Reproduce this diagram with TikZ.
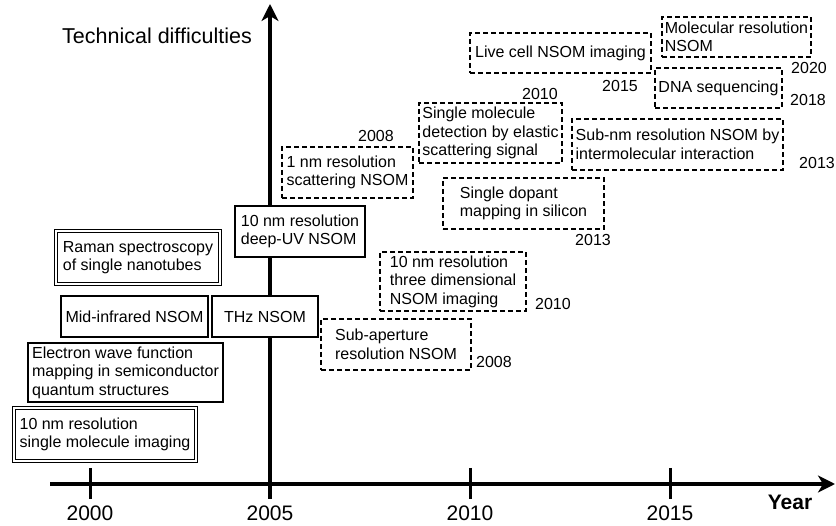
\documentclass[tikz,border=0pt]{standalone}
\usepackage{fontspec}
\setmainfont{Liberation Sans}
\usepackage{tikz}
\usetikzlibrary{arrows.meta}
\tikzset{
    bx/.style={align=left, inner sep=3pt, font=\fontsize{16}{18.5}\selectfont},
    sbox/.style={bx, draw, line width=1.8},
    wbox/.style={bx, draw, line width=0.8, double, double distance=2},
    dbox/.style={bx, draw, line width=1.8, dash pattern=on 5 off 3},
    yr/.style={font=\fontsize{16}{18}\selectfont}
}

\begin{document}
\begin{tikzpicture}[x=1pt, y=-1pt]
    \useasboundingbox (0,0) rectangle (836,526);
    \coordinate(xs) at (50,484);
    \coordinate(xe) at (835,484);
    \coordinate(ys) at (270,499);
    \coordinate(ye) at (270,4);
    \draw[line width=4, -{Stealth[length=17, width=17, inset=5]}] (xs) -- (xe);
    \draw[line width=4, -{Stealth[length=17, width=17, inset=5]}] (ys) -- (ye);
    \foreach \x/\y in {90/2000,270/2005,470/2010,670/2015} {
        \draw[line width=3] (\x,468) -- (\x,499);
        \node[font=\fontsize{21}{24}\selectfont] at (\x,513) {\y};
    }
    \node(year)[font=\fontsize{21}{24}\selectfont\bfseries] at (790,502) {Year};
    \node(tech)[font=\fontsize{21.5}{24}\selectfont] at (157,36) {Technical difficulties};

    \node(raman)[wbox, minimum width=164, minimum height=53] at (138,257.5)
        {Raman spectroscopy\\of single nanotubes};
    \node(deepuv)[sbox, minimum width=130, minimum height=51, fill=white] at (300,231.5)
        {10 nm resolution\\deep-UV NSOM};
    \node(midir)[sbox, minimum width=147, minimum height=41] at (134.5,316.5)
        {Mid-infrared NSOM};
    \node(thz)[sbox, minimum width=106, minimum height=41, fill=white] at (265,316.5)
        {THz NSOM};
    \node(elec)[sbox, minimum width=195, minimum height=59] at (125.5,372.5)
        {Electron wave function\\mapping in semiconductor\\quantum structures};
    \node(smi)[wbox, minimum width=182, minimum height=53] at (105,434.5)
        {10 nm resolution\\single molecule imaging};

    \node(onenm)[dbox, minimum width=131, minimum height=51] at (347.5,172.5)
        {1 nm resolution\\scattering NSOM};
    \node(subap)[dbox, minimum width=150, minimum height=51] at (396,344.5)
        {Sub-aperture\\resolution NSOM};
    \node(threed)[dbox, minimum width=146, minimum height=59] at (453,281.5)
        {10 nm resolution\\three dimensional\\NSOM imaging};
    \node(elastic)[dbox, minimum width=143, minimum height=60] at (490.5,133)
        {Single molecule\\detection by elastic\\scattering signal};
    \node(dopant)[dbox, minimum width=161, minimum height=51] at (523.5,203.5)
        {Single dopant\\mapping in silicon};
    \node(subnm)[dbox, minimum width=211, minimum height=51] at (677.5,144.5)
        {Sub-nm resolution NSOM by\\intermolecular interaction};
    \node(live)[dbox, minimum width=181, minimum height=40] at (560.5,53)
        {Live cell NSOM imaging};
    \node(dna)[dbox, minimum width=127, minimum height=40] at (718.5,88)
        {DNA sequencing};
    \node(molec)[dbox, minimum width=149, minimum height=40, inner sep=1pt] at (736.5,37)
        {Molecular resolution\\NSOM};

    \node(y1)[yr] at (376,136) {2008};
    \node(y2)[yr] at (494,362) {2008};
    \node(y3)[yr] at (553,304) {2010};
    \node(y4)[yr] at (540,94) {2010};
    \node(y5)[yr] at (593,240) {2013};
    \node(y6)[yr] at (817,163) {2013};
    \node(y7)[yr] at (620,86) {2015};
    \node(y8)[yr] at (808,100) {2018};
    \node(y9)[yr] at (809,68) {2020};
\end{tikzpicture}
\end{document}
